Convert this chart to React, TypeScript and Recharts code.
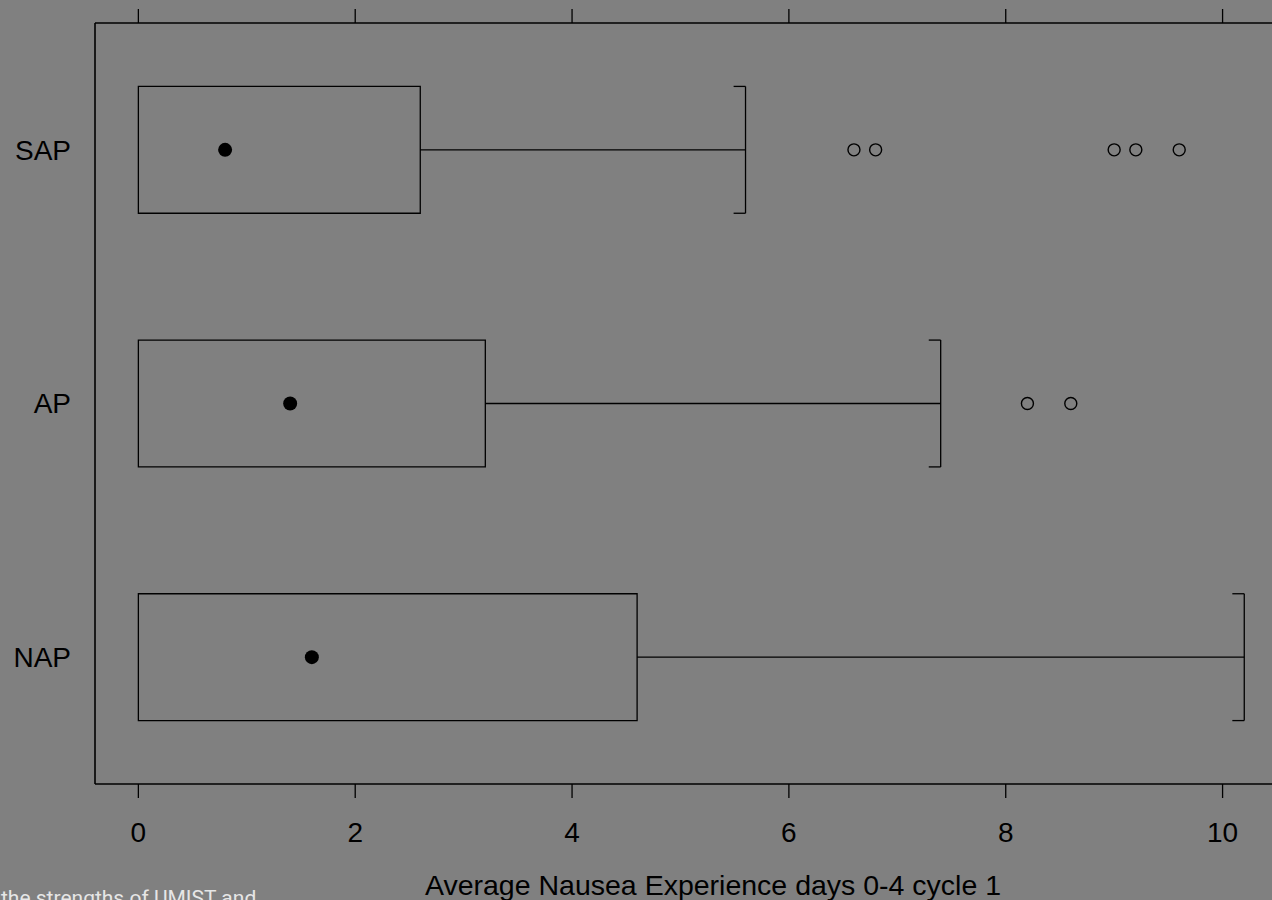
import React from "react";
import {
  ComposedChart,
  XAxis,
  YAxis,
  Scatter,
  ReferenceArea,
  ReferenceLine,
} from "recharts";

const groups = ["NAP", "AP", "SAP"];
const lowerHinge = [0, 0, 0];
const upperHinge = [4.6, 3.2, 2.6];
const medians = [1.6, 1.4, 0.8];
const upperWhisker = [10.2, 7.4, 5.6];
const outliers = [[], [8.2, 8.6], [6.6, 6.8, 9.0, 9.2, 9.6]];
const xTicks = [0, 2, 4, 6, 8, 10];

const BG = "#808080";
const FONT = "'Liberation Sans', Arial, sans-serif";
const HALF = 0.25;
const CAP = 0.11;

const medianData = groups.map((g, i) => ({ x: medians[i], y: i + 1, g }));
const outlierData = outliers.flatMap((vals, i) =>
  vals.map((v) => ({ x: v, y: i + 1 }))
);

const MedianDot = (props: any) => (
  <circle cx={props.cx} cy={props.cy} r={7} fill="#000" />
);
const OpenDot = (props: any) => (
  <circle cx={props.cx} cy={props.cy} r={6} fill="none" stroke="#000" strokeWidth={1.4} />
);
const NoDot = () => <g />;

export default function App() {
  return (
    <div
      style={{
        position: "absolute",
        left: 0,
        top: 0,
        width: 1272,
        height: 900,
        overflow: "hidden",
        background: BG,
        fontFamily: FONT,
      }}
    >
      <ComposedChart
        width={1345}
        height={900}
        margin={{ top: 0, right: 14, bottom: 46, left: 0 }}
      >
        <XAxis
          xAxisId="t"
          orientation="top"
          type="number"
          dataKey="x"
          domain={[-0.4, 11]}
          allowDataOverflow
          ticks={xTicks}
          height={23}
          tickSize={14}
          tickFormatter={() => ""}
          tickLine={{ stroke: "#000", strokeWidth: 1.3 }}
          axisLine={{ stroke: "#000", strokeWidth: 1.6 }}
        />
        <XAxis
          xAxisId="b"
          type="number"
          dataKey="x"
          domain={[-0.4, 11]}
          allowDataOverflow
          ticks={xTicks}
          height={70}
          tickSize={14}
          tickMargin={24}
          tick={{ fill: "#000", fontSize: 28, fontFamily: FONT }}
          tickLine={{ stroke: "#000", strokeWidth: 1.3 }}
          axisLine={{ stroke: "#000", strokeWidth: 1.6 }}
          label={{
            value: "Average Nausea Experience days 0-4 cycle 1",
            position: "bottom",
            offset: 21,
            fill: "#000",
            fontSize: 28.5,
            fontFamily: FONT,
          }}
        />
        <YAxis
          type="number"
          dataKey="y"
          domain={[0.5, 3.5]}
          ticks={[1, 2, 3]}
          tickFormatter={(v: number) => groups[v - 1]}
          width={95}
          tickSize={0}
          tickMargin={24}
          tickLine={false}
          tick={{ fill: "#000", fontSize: 28, fontFamily: FONT }}
          axisLine={{ stroke: "#000", strokeWidth: 1.6 }}
        />
        {groups.map((g, i) => (
          <ReferenceArea
            key={"box" + g}
            xAxisId="b"
            x1={lowerHinge[i]}
            x2={upperHinge[i]}
            y1={i + 1 - HALF}
            y2={i + 1 + HALF}
            fill="none"
            stroke="#000"
            strokeWidth={1.3}
          />
        ))}
        {groups.map((g, i) => (
          <ReferenceLine
            key={"wh" + g}
            xAxisId="b"
            segment={[
              { x: upperHinge[i], y: i + 1 },
              { x: upperWhisker[i], y: i + 1 },
            ]}
            stroke="#000"
            strokeWidth={1.3}
          />
        ))}
        {groups.map((g, i) => (
          <ReferenceLine
            key={"cap" + g}
            xAxisId="b"
            segment={[
              { x: upperWhisker[i], y: i + 1 - HALF },
              { x: upperWhisker[i], y: i + 1 + HALF },
            ]}
            stroke="#000"
            strokeWidth={1.3}
          />
        ))}
        {groups.map((g, i) => (
          <ReferenceLine
            key={"capt" + g}
            xAxisId="b"
            segment={[
              { x: upperWhisker[i] - CAP, y: i + 1 + HALF },
              { x: upperWhisker[i], y: i + 1 + HALF },
            ]}
            stroke="#000"
            strokeWidth={1.3}
          />
        ))}
        {groups.map((g, i) => (
          <ReferenceLine
            key={"capb" + g}
            xAxisId="b"
            segment={[
              { x: upperWhisker[i] - CAP, y: i + 1 - HALF },
              { x: upperWhisker[i], y: i + 1 - HALF },
            ]}
            stroke="#000"
            strokeWidth={1.3}
          />
        ))}
        <Scatter
          xAxisId="t"
          data={medianData}
          shape={NoDot}
          isAnimationActive={false}
        />
        <Scatter
          xAxisId="b"
          data={medianData}
          shape={MedianDot}
          isAnimationActive={false}
        />
        <Scatter
          xAxisId="b"
          data={outlierData}
          shape={OpenDot}
          isAnimationActive={false}
        />
      </ComposedChart>
      <div
        style={{
          position: "absolute",
          left: 1,
          top: 886,
          fontFamily: "Roboto, sans-serif",
          fontSize: 21,
          color: "#e6e6e6",
          whiteSpace: "nowrap",
          lineHeight: "24px",
        }}
      >
        the strengths of UMIST and
      </div>
    </div>
  );
}
